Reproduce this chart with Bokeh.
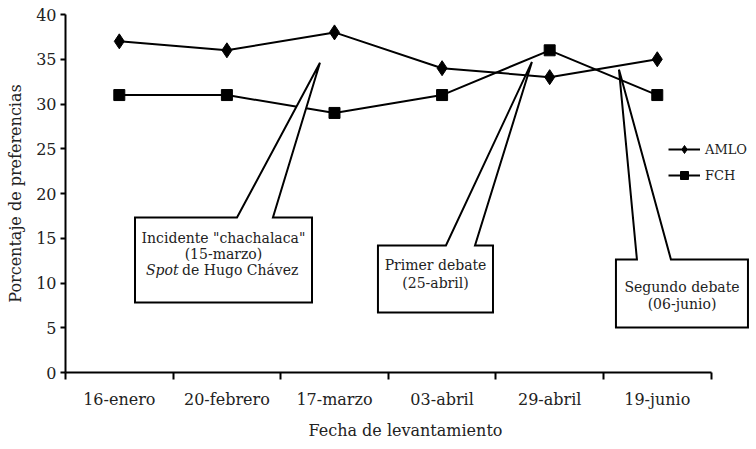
import numpy as np
from bokeh.plotting import figure
from bokeh.models import (Range1d, FixedTicker, Legend, LegendItem, Label, Title)
from bokeh.embed import file_html
from bokeh.resources import INLINE

# ---- data ----
fechas = ["16-enero", "20-febrero", "17-marzo", "03-abril", "29-abril", "19-junio"]
amlo = [37, 36, 38, 34, 33, 35]
fch = [31, 31, 29, 31, 36, 31]
y_ticks = [0, 5, 10, 15, 20, 25, 30, 35, 40]

callout_texts = [
    ['Incidente "chachalaca"', "(15-marzo)"],
    ["Primer debate", "(25-abril)"],
    ["Segundo debate", "(06-junio)"],
]

FONT = "DejaVu Serif"

# category positions (centre of each band)
xs = np.arange(len(fechas)) + 0.5

p = figure(width=756, height=449, output_backend="svg", toolbar_location=None,
           x_range=Range1d(0, 6.413), y_range=Range1d(0, 40),
           min_border_left=65, min_border_right=1, min_border_top=14,
           min_border_bottom=77)
p.outline_line_color = None
p.grid.visible = False
p.background_fill_color = "white"
p.border_fill_color = "white"

# ---- axes ----
xa = p.xaxis[0]
xa.ticker = FixedTicker(ticks=list(xs), minor_ticks=list(range(len(fechas) + 1)))
xa.major_label_overrides = {float(x): f for x, f in zip(xs, fechas)}
xa.bounds = (0, len(fechas))
xa.major_tick_out = 0
xa.major_tick_in = 0
xa.minor_tick_out = 7
xa.minor_tick_in = 0
xa.minor_tick_line_width = 2
xa.axis_line_width = 2
xa.major_label_standoff = 10
xa.major_label_text_font = FONT
xa.major_label_text_font_size = "16px"
xa.major_label_text_color = "#222222"

ya = p.yaxis[0]
ya.ticker = FixedTicker(ticks=y_ticks)
ya.minor_tick_line_color = None
ya.major_tick_out = 5
ya.major_tick_in = 0
ya.major_tick_line_width = 2
ya.axis_line_width = 2
ya.major_label_standoff = 4
ya.major_label_text_font = FONT
ya.major_label_text_font_size = "16px"
ya.major_label_text_color = "#222222"
ya.axis_label = "Porcentaje de preferencias"
ya.axis_label_text_font = FONT
ya.axis_label_text_font_size = "16px"
ya.axis_label_text_font_style = "normal"
ya.axis_label_text_color = "#222222"
ya.axis_label_standoff = 8

# x axis title, placed under the axis span (not the whole frame)
p.add_layout(Title(text="Fecha de levantamiento", align="left", offset=243,
                   text_font=FONT, text_font_size="16px", text_font_style="normal",
                   text_color="#222222", standoff=15), "below")

# ---- series ----
l1 = p.line(xs, amlo, line_color="black", line_width=2)
s1 = p.scatter(xs, amlo, marker="diamond", size=15, fill_color="black", line_color="black")
l2 = p.line(xs, fch, line_color="black", line_width=2)
s2 = p.scatter(xs, fch, marker="square", size=11, fill_color="black", line_color="black")

# ---- callouts (layout geometry in axis units) ----
# box x0, x1, y_bottom, y_top, pointer base left, pointer base right, tip x, tip y
callout_geom = [
    (0.646, 2.291, 7.82, 17.32, 1.594, 1.928, 2.365, 34.6),
    (2.904, 3.973, 6.70, 14.19, 3.536, 3.806, 4.335, 34.7),
    (5.116, 6.343, 5.03, 12.63, 5.311, 5.627, 5.144, 33.85),
]
pxs, pys = [], []
for (x0, x1, yb, yt, b0, b1, tx, ty) in callout_geom:
    pxs.append([x0, b0, tx, b1, x1, x1, x0])
    pys.append([yt, yt, ty, yt, yt, yb, yb])
p.patches(pxs, pys, fill_color="white", line_color="black", line_width=2,
          line_join="miter")

# callout texts: centre x, first line y, line step
text_pos = [(1.468, 15.08, 1.8), (3.439, 11.96, 2.0), (5.73, 9.50, 1.8)]
for lines, (cx, y0, dy) in zip(callout_texts, text_pos):
    for i, t in enumerate(lines):
        p.add_layout(Label(x=cx, y=y0 - i * dy, text=t, text_align="center",
                           text_baseline="middle", text_font=FONT,
                           text_font_size="14px", text_color="#222222"))
# third line of first callout with italic "Spot"
p.add_layout(Label(x=0.748, y=11.4, text="Spot", text_align="left",
                   text_baseline="middle", text_font=FONT, text_font_style="italic",
                   text_font_size="14px", text_color="#222222"))
p.add_layout(Label(x=1.083, y=11.4, text="de Hugo Chávez", text_align="left",
                   text_baseline="middle", text_font=FONT,
                   text_font_size="14px", text_color="#222222"))

# ---- legend ----
legend = Legend(items=[LegendItem(label="AMLO", renderers=[l1, s1]),
                       LegendItem(label="FCH", renderers=[l2, s2])],
                location=(603, 187), padding=0, margin=0, spacing=6,
                glyph_width=32, glyph_height=20, label_standoff=5,
                label_text_font=FONT, label_text_font_size="13px",
                label_text_color="#222222",
                border_line_alpha=0, background_fill_alpha=0)
p.add_layout(legend, "center")

open("out.html", "w").write(file_html(p, INLINE))
